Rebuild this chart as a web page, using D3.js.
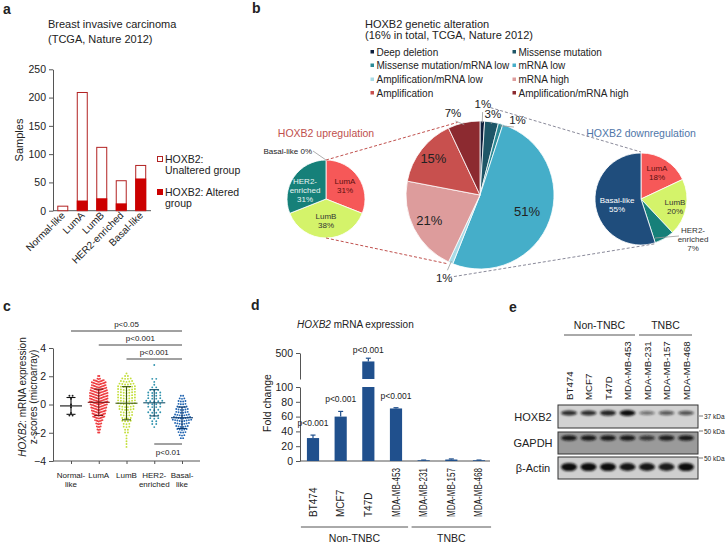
<!DOCTYPE html>
<html>
<head>
<meta charset="utf-8">
<script src="https://cdn.jsdelivr.net/npm/d3@7"></script>
<style>
body { margin: 0; background: #fff; }
text { font-family: "Liberation Sans", Arial, sans-serif; fill: #222; }
</style>
</head>
<body>
<div id="fig"></div>
<script>

// ---------- data ----------
// a: sample counts per PAM50 subtype
var subtypes = ["Normal-like", "LumA", "LumB", "HER2-enriched", "Basal-like"];
var totalSamples = [8, 209, 112, 53, 80];
var alteredSamples = [0, 18, 22, 13, 57];
var sampleTicks = [0, 50, 100, 150, 200, 250];

// b: alteration types (central pie) and subtype split of up / down groups
var alterTypes = ["Deep deletion", "Missense mutation", "Missense mutation/mRNA low", "mRNA low",
                  "Amplification/mRNA low", "mRNA high", "Amplification", "Amplification/mRNA high"];
var alterPct = [1, 3, 1, 51, 1, 21, 15, 7];
var upSubtypes = ["LumA", "LumB", "HER2-enriched", "Basal-like"];
var upPct = [31, 38, 31, 0];
var downSubtypes = ["LumA", "LumB", "HER2-enriched", "Basal-like"];
var downPct = [18, 20, 7, 55];

// c: z-score dot plot, counts of samples per z-score row
var zBins = [-3.0, -2.8, -2.6, -2.4, -2.2, -2.0, -1.8, -1.6, -1.4, -1.2, -1.0, -0.8, -0.6, -0.4, -0.2,
             0.0, 0.2, 0.4, 0.6, 0.8, 1.0, 1.2, 1.4, 1.6, 1.8, 2.0, 2.2, 2.4, 2.6, 2.8];
var zNormal = [0,0,0,0,0,0,0,0,0,0,0,2,1,0,1,1,0,1,2,0,0,0,0,0,0,0,0,0,0,0];
var zLumA   = [0,0,0,0,0,2,3,4,5,7,10,11,12,13,14,15,15,15,15,14,13,12,12,9,3,2,0,0,0,0];
var zLumB   = [1,1,1,1,1,2,2,3,3,4,4,5,5,6,6,7,7,7,7,7,7,7,6,5,4,2,1,0,0,0];
var zHer2   = [0,0,0,0,0,0,0,1,2,2,3,3,4,3,4,4,5,4,4,4,3,2,1,1,2,0,0,0,0,1];
var zBasal  = [0,0,0,2,3,4,5,6,7,9,8,7,6,6,5,4,4,3,2,0,0,0,0,0,0,0,0,0,0,0];
var zTicks = [-4, -2, 0, 2, 4];
var zComparisons = [["Normal-like", "Basal-like", "p<0.05"], ["LumA", "Basal-like", "p<0.001"],
                    ["LumB", "Basal-like", "p<0.001"]];

// d: qPCR fold change
var cellLines = ["BT474", "MCF7", "T47D", "MDA-MB-453", "MDA-MB-231", "MDA-MB-157", "MDA-MB-468"];
var foldChange = [31, 60, 370, 71, 1, 2, 1];
var foldErr = [4, 7, 50, 1, 0.3, 0.8, 0.3];
var foldP = ["p<0.001", "p<0.001", "p<0.001", "p<0.001", "", "", ""];
var lowTicks = [0, 20, 40, 60, 80, 100];
var highTicks = [500];
var groups = [["Non-TNBC", 0, 3], ["TNBC", 4, 6]];

// e: western blot band intensities (0-1)
var blotProteins = ["HOXB2", "GAPDH", "\u03b2-Actin"];
var hoxb2Band = [0.8, 0.8, 0.85, 1.0, 0.35, 0.5, 0.55];
var gapdhBand = [0.9, 0.9, 0.9, 0.9, 0.65, 0.85, 0.9];
var actinBand = [1.0, 1.0, 1.0, 0.95, 0.95, 0.9, 1.0];
var kdaMarks = ["37 kDa", "50 kDa", "50 kDa"];

// ---------- page ----------
var svg = d3.select("#fig").append("svg").attr("width", 728).attr("height", 547);
svg.append("rect").attr("width", 728).attr("height", 547).attr("fill", "#fff");

var defs = svg.append("defs");
defs.append("filter").attr("id", "blur").attr("x", "-50%").attr("y", "-100%").attr("width", "200%").attr("height", "300%")
  .append("feGaussianBlur").attr("stdDeviation", 0.9);

function panelLabel(t, x, y) {
  svg.append("text").attr("x", x).attr("y", y).attr("font-size", 14).attr("font-weight", "bold").text(t);
}
panelLabel("a", 3, 14);
panelLabel("b", 252, 13);
panelLabel("c", 3, 311);
panelLabel("d", 251, 310);
panelLabel("e", 509, 312);

function styleAxis(g, fs) {
  g.select(".domain").attr("stroke", "#555");
  g.selectAll(".tick line").attr("stroke", "#555");
  g.selectAll(".tick text").attr("font-size", fs).attr("fill", "#222")
    .attr("font-family", '"Liberation Sans", Arial, sans-serif');
}

// ================= panel a =================
var pa = svg.append("g");
pa.append("text").attr("x", 48).attr("y", 28).attr("font-size", 11).text("Breast invasive carcinoma");
pa.append("text").attr("x", 48).attr("y", 43).attr("font-size", 11).text("(TCGA, Nature 2012)");

var ax = d3.scaleBand().domain(subtypes).range([53, 150.5]).paddingInner(0.436).paddingOuter(0.22);
var ay = d3.scaleLinear().domain([0, 250]).range([210.7, 69.3]);

var gay = pa.append("g").attr("transform", "translate(53,0)")
  .call(d3.axisLeft(ay).tickValues(sampleTicks).tickSize(4).tickSizeOuter(0));
styleAxis(gay, 10.5);
pa.append("line").attr("x1", 53).attr("x2", 151).attr("y1", 210.7).attr("y2", 210.7).attr("stroke", "#555");

pa.selectAll(".tot").data(subtypes).enter().append("rect")
  .attr("x", function(d) { return ax(d) + 0.5; })
  .attr("y", function(d, i) { return ay(totalSamples[i]); })
  .attr("width", ax.bandwidth() - 1)
  .attr("height", function(d, i) { return ay(0) - ay(totalSamples[i]); })
  .attr("fill", "#fff").attr("stroke", "#b22222").attr("stroke-width", 1);
pa.selectAll(".alt").data(subtypes).enter().append("rect")
  .attr("x", function(d) { return ax(d); })
  .attr("y", function(d, i) { return ay(alteredSamples[i]); })
  .attr("width", ax.bandwidth())
  .attr("height", function(d, i) { return ay(0) - ay(alteredSamples[i]); })
  .attr("fill", "#cc0000");
pa.selectAll(".xl").data(subtypes).enter().append("text")
  .attr("transform", function(d) { return "translate(" + (ax(d) + ax.bandwidth() / 2 + 3) + ",216) rotate(-45)"; })
  .attr("text-anchor", "end").attr("font-size", 10).text(function(d) { return d; });
pa.append("text").attr("transform", "translate(23,140) rotate(-90)").attr("text-anchor", "middle")
  .attr("font-size", 11).text("Samples");

// legend
pa.append("rect").attr("x", 157.5).attr("y", 156.5).attr("width", 5).attr("height", 5)
  .attr("fill", "#fff").attr("stroke", "#b22222");
pa.append("text").attr("x", 165).attr("y", 163).attr("font-size", 10.5).text("HOXB2:");
pa.append("text").attr("x", 165).attr("y", 174).attr("font-size", 10.5).text("Unaltered group");
pa.append("rect").attr("x", 157).attr("y", 189).attr("width", 6).attr("height", 6).attr("fill", "#cc0000");
pa.append("text").attr("x", 165).attr("y", 196).attr("font-size", 10.5).text("HOXB2: Altered");
pa.append("text").attr("x", 165).attr("y", 207).attr("font-size", 10.5).text("group");

// ================= panel b =================
var pb = svg.append("g");
var alterColor = d3.scaleOrdinal().domain(alterTypes)
  .range(["#0e1f3d", "#1e5667", "#2b8a96", "#45aec9", "#a9dbe6", "#dd9c9c", "#c8504e", "#8c2a30"]);
var subColor = d3.scaleOrdinal().domain(upSubtypes).range(["#f65858", "#d4f36a", "#168079", "#1f4d7c"]);

pb.append("text").attr("x", 365).attr("y", 28).attr("font-size", 11).text("HOXB2 genetic alteration");
pb.append("text").attr("x", 365).attr("y", 39).attr("font-size", 11).text("(16% in total, TCGA, Nature 2012)");

var leg = pb.selectAll(".lg").data(alterTypes).enter().append("g")
  .attr("transform", function(d, i) {
    return "translate(" + (i % 2 === 0 ? 370.5 : 512.5) + "," + [52, 65.5, 79.5, 93][Math.floor(i / 2)] + ")";
  });
leg.append("rect").attr("x", 0).attr("y", -2).attr("width", 3.5).attr("height", 3.5)
  .attr("fill", function(d) { return alterColor(d); });
leg.append("text").attr("x", 6).attr("y", 3.5).attr("font-size", 10).text(function(d) { return d; });

// central pie
var cx0 = 480, cy0 = 195, r0 = 74;
var pie = d3.pie().sort(null).value(function(d) { return d.v; });
var arc0 = d3.arc().innerRadius(0).outerRadius(r0);
var slices0 = pie(alterTypes.map(function(t, i) { return {k: t, v: alterPct[i]}; }));
var gc = pb.append("g").attr("transform", "translate(" + cx0 + "," + cy0 + ")");
gc.selectAll("path").data(slices0).enter().append("path")
  .attr("d", arc0).attr("fill", function(d) { return alterColor(d.data.k); })
  .attr("stroke", "#fff").attr("stroke-width", 0.8);

// label radius per slice (inside for the large ones, outside otherwise)
var labelR = [91, 82, 84, 50, 90, 57, 59, 86];
var labelNudge = [0, 0, 0.18, 0, 0, 0, 0, -0.1];
gc.selectAll(".pl").data(slices0).enter().append("text")
  .attr("x", function(d, i) { var a = (d.startAngle + d.endAngle) / 2 + labelNudge[i]; return Math.sin(a) * labelR[i]; })
  .attr("y", function(d, i) { var a = (d.startAngle + d.endAngle) / 2 + labelNudge[i]; return -Math.cos(a) * labelR[i] + 4; })
  .attr("text-anchor", "middle").attr("font-size", function(d, i) { return labelR[i] < 70 ? 13 : 11.5; })
  .text(function(d) { return d.data.v + "%"; });
// leader lines for outside labels
slices0.forEach(function(d, i) {
  if (labelR[i] < 70) return;
  var a = (d.startAngle + d.endAngle) / 2;
  var a2 = a + labelNudge[i];
  gc.append("line")
    .attr("x1", Math.sin(a) * (r0 - 2)).attr("y1", -Math.cos(a) * (r0 - 2))
    .attr("x2", Math.sin(a2) * (labelR[i] - 8)).attr("y2", -Math.cos(a2) * (labelR[i] - 8))
    .attr("stroke", "#999").attr("stroke-width", 0.8);
});

// side pies
function sidePie(cx, cy, r, names, pcts, title, titleColor) {
  var g = pb.append("g").attr("transform", "translate(" + cx + "," + cy + ")");
  var arc = d3.arc().innerRadius(0).outerRadius(r);
  var sl = pie(names.map(function(t, i) { return {k: t, v: pcts[i]}; }));
  g.selectAll("path").data(sl.filter(function(d) { return d.data.v > 0; })).enter().append("path")
    .attr("d", arc).attr("fill", function(d) { return subColor(d.data.k); })
    .attr("stroke", "#fff").attr("stroke-width", 0.8);
  g.append("text").attr("x", 0).attr("y", -62).attr("text-anchor", "middle")
    .attr("font-size", 10.5).style("fill", titleColor).text(title);
  return {g: g, slices: sl};
}

var up = sidePie(326, 199, 39, upSubtypes, upPct, "HOXB2 upregulation", "#c0504d");
var dn = sidePie(641, 199, 46, downSubtypes, downPct, "HOXB2 downregulation", "#4f76a8");

function smallLabel(g, x, y, lines, color) {
  var t = g.append("text").attr("text-anchor", "middle").attr("font-size", 8).style("fill", color);
  lines.forEach(function(s, i) {
    t.append("tspan").attr("x", x).attr("y", y + i * 9).text(s);
  });
}
var upLab = [[19, -15, "#5a1010"], [0, 20, "#333"], [-21, -15, "#e8f4f2"]];
up.slices.forEach(function(d, i) {
  if (d.data.v === 0) return;
  var L = upLab[i];
  var lines = d.data.k === "HER2-enriched" ? ["HER2-", "enriched", d.data.v + "%"] : [d.data.k, d.data.v + "%"];
  smallLabel(up.g, L[0], L[1], lines, L[2]);
});
up.g.append("text").attr("x", -14).attr("y", -45).attr("text-anchor", "end").attr("font-size", 8)
  .text("Basal-like " + upPct[3] + "%");
up.g.append("line").attr("x1", -13).attr("y1", -48).attr("x2", 0).attr("y2", -39)
  .attr("stroke", "#999").attr("stroke-width", 0.8);

var dnLab = [[16, -28, "#5a1010"], [34, 6, "#333"], [52, 34, "#333"], [-24, 4, "#fff"]];
dn.slices.forEach(function(d, i) {
  var L = dnLab[i];
  var lines = d.data.k === "HER2-enriched" ? ["HER2-", "enriched", d.data.v + "%"]
            : d.data.k === "Basal-like" ? ["Basal-like", d.data.v + "%"] : [d.data.k, d.data.v + "%"];
  smallLabel(dn.g, L[0], L[1], lines, L[2]);
});
dn.g.append("line").attr("x1", 14).attr("y1", 39).attr("x2", 38).attr("y2", 37)
  .attr("stroke", "#999").attr("stroke-width", 0.8);

// dashed connectors between the pies
var upStart = slices0[5].startAngle, downEnd = slices0[4].endAngle;
function onCircle(cx, cy, r, a) { return [cx + Math.sin(a) * r, cy - Math.cos(a) * r]; }
var conns = [
  [onCircle(326, 199, 39, 0), onCircle(cx0, cy0, r0 + 2, 2 * Math.PI - 0.3), "#c0504d"],
  [onCircle(326, 199, 39, Math.PI), onCircle(cx0, cy0, r0 + 2, upStart), "#c0504d"],
  [onCircle(cx0, cy0, r0 + 14, 0.12), onCircle(641, 199, 47, 0), "#8a8a9a"],
  [onCircle(cx0, cy0, r0 + 14, downEnd - 0.08), onCircle(641, 199, 47, dn.slices[2].endAngle), "#8a8a9a"]
];
conns.forEach(function(c) {
  pb.append("line").attr("x1", c[0][0]).attr("y1", c[0][1]).attr("x2", c[1][0]).attr("y2", c[1][1])
    .attr("stroke", c[2]).attr("stroke-width", 1).attr("stroke-dasharray", "3,2");
});

// ================= panel c =================
var pc = svg.append("g");
var cxs = d3.scalePoint().domain(subtypes).range([71, 182]);
var cys = d3.scaleLinear().domain([-4, 4]).range([461, 348]);
var gcy = pc.append("g").attr("transform", "translate(53,0)")
  .call(d3.axisLeft(cys).tickValues(zTicks).tickSize(4).tickSizeOuter(0));
styleAxis(gcy, 10.5);
var gcx = pc.append("g").attr("transform", "translate(0,461)")
  .call(d3.axisBottom(cxs).tickSize(3).tickFormat(""));
gcx.select(".domain").attr("d", "M53,0H200");
styleAxis(gcx, 8.5);

var catLines = [["Normal-", "like"], ["LumA"], ["LumB"], ["HER2-", "enriched"], ["Basal-", "like"]];
subtypes.forEach(function(s, i) {
  var t = pc.append("text").attr("text-anchor", "middle").attr("font-size", 8);
  catLines[i].forEach(function(l, j) {
    t.append("tspan").attr("x", cxs(s)).attr("y", 478 + j * 9).text(l);
  });
});

var ylab = pc.append("text").attr("transform", "translate(26,397) rotate(-90)")
  .attr("text-anchor", "middle").attr("font-size", 10);
ylab.append("tspan").attr("font-style", "italic").text("HOXB2");
ylab.append("tspan").text(": mRNA expression");
pc.append("text").attr("transform", "translate(37,397) rotate(-90)")
  .attr("text-anchor", "middle").attr("font-size", 10).text("z-scores (microarray)");

var zGroups = [
  {name: "Normal-like", counts: zNormal, color: "#222", dark: "#111", dx: 3.2},
  {name: "LumA", counts: zLumA, color: "#ee3b3f", dark: "#7a1414", dx: 1.25},
  {name: "LumB", counts: zLumB, color: "#c3de3a", dark: "#3f5a12", dx: 2.8},
  {name: "HER2-enriched", counts: zHer2, color: "#2f92ad", dark: "#15506a", dx: 4},
  {name: "Basal-like", counts: zBasal, color: "#1f63b0", dark: "#0d3a6e", dx: 2.3}
];
zGroups.forEach(function(g) {
  var pts = [], vals = [];
  g.counts.forEach(function(n, b) {
    for (var k = 0; k < n; k++) {
      var off = k - (n - 1) / 2;
      pts.push([cxs(g.name) + off * g.dx, cys(zBins[b]) - Math.abs(off) * 0.45]);
      vals.push(zBins[b]);
    }
  });
  pc.append("g").selectAll("circle").data(pts).enter().append("circle")
    .attr("cx", function(d) { return d[0]; }).attr("cy", function(d) { return d[1]; })
    .attr("r", 0.95).attr("fill", g.color);
  var m = d3.mean(vals), sd = d3.deviation(vals), x = cxs(g.name);
  var eg = pc.append("g").attr("stroke", g.dark).attr("stroke-width", 1.1);
  eg.append("line").attr("x1", x - 11).attr("x2", x + 11).attr("y1", cys(m)).attr("y2", cys(m));
  eg.append("line").attr("x1", x).attr("x2", x).attr("y1", cys(m - sd)).attr("y2", cys(m + sd));
  eg.append("line").attr("x1", x - 4.5).attr("x2", x + 4.5).attr("y1", cys(m + sd)).attr("y2", cys(m + sd));
  eg.append("line").attr("x1", x - 4.5).attr("x2", x + 4.5).attr("y1", cys(m - sd)).attr("y2", cys(m - sd));
});

zComparisons.forEach(function(c, i) {
  var y = 331 + i * 14;
  pc.append("line").attr("x1", cxs(c[0])).attr("x2", cxs(c[1])).attr("y1", y).attr("y2", y)
    .attr("stroke", "#444").attr("stroke-width", 1);
  pc.append("text").attr("x", (cxs(c[0]) + cxs(c[1])) / 2).attr("y", y - 4)
    .attr("text-anchor", "middle").attr("font-size", 8).text(c[2]);
});
pc.append("line").attr("x1", cxs("HER2-enriched")).attr("x2", cxs("Basal-like")).attr("y1", 444).attr("y2", 444)
  .attr("stroke", "#444").attr("stroke-width", 1);
pc.append("text").attr("x", (cxs("HER2-enriched") + cxs("Basal-like")) / 2).attr("y", 455)
  .attr("text-anchor", "middle").attr("font-size", 8).text("p<0.01");

// ================= panel d =================
var pd = svg.append("g");
var t = pd.append("text").attr("x", 297).attr("y", 328).attr("font-size", 10);
t.append("tspan").attr("font-style", "italic").text("HOXB2");
t.append("tspan").text(" mRNA expression");

var dx = d3.scaleBand().domain(cellLines).range([300, 492]).paddingInner(0.56).paddingOuter(0.25);
var yLow = d3.scaleLinear().domain([0, 100]).range([461, 387]);
var yHigh = d3.scaleLinear().domain([100, 500]).range([379, 353]);
function yFold(v) { return v <= 100 ? yLow(v) : yHigh(v); }

var gl = pd.append("g").attr("transform", "translate(300,0)")
  .call(d3.axisLeft(yLow).tickValues(lowTicks).tickSize(4).tickSizeOuter(0));
styleAxis(gl, 10.5);
var gh = pd.append("g").attr("transform", "translate(300,0)")
  .call(d3.axisLeft(yHigh).tickValues(highTicks).tickSize(4).tickSizeOuter(0));
styleAxis(gh, 10.5);
pd.append("line").attr("x1", 300).attr("x2", 490).attr("y1", 461).attr("y2", 461).attr("stroke", "#555");

var barCol = "#20508d";
cellLines.forEach(function(c, i) {
  var x = dx(c), w = dx.bandwidth(), v = foldChange[i];
  pd.append("rect").attr("x", x).attr("width", w).attr("y", yLow(Math.min(v, 100)))
    .attr("height", yLow(0) - yLow(Math.min(v, 100))).attr("fill", barCol);
  if (v > 100) {
    pd.append("rect").attr("x", x).attr("width", w).attr("y", yHigh(v))
      .attr("height", yHigh(100) - yHigh(v)).attr("fill", barCol);
  }
  var top = yFold(v + foldErr[i]), cxp = x + w / 2;
  pd.append("line").attr("x1", cxp).attr("x2", cxp).attr("y1", yFold(v)).attr("y2", top)
    .attr("stroke", barCol).attr("stroke-width", 1.2);
  pd.append("line").attr("x1", cxp - 2.5).attr("x2", cxp + 2.5).attr("y1", top).attr("y2", top)
    .attr("stroke", barCol).attr("stroke-width", 1.2);
  if (foldP[i]) {
    pd.append("text").attr("x", cxp).attr("y", top - (v > 100 ? 5 : 9)).attr("text-anchor", "middle")
      .attr("font-size", 8.5).text(foldP[i]);
  }
  var lab = pd.append("text").attr("transform", "translate(" + (cxp + 3.5) + ",517) rotate(-90)")
    .attr("font-size", 10).text(c);
  // long names are squeezed in the original figure
  if (lab.node().getComputedTextLength() > 49) {
    lab.attr("textLength", 49).attr("lengthAdjust", "spacingAndGlyphs");
  }
});
groups.forEach(function(g) {
  var x1 = dx(cellLines[g[1]]) - 6, x2 = dx(cellLines[g[2]]) + dx.bandwidth() + 6;
  pd.append("line").attr("x1", x1).attr("x2", x2).attr("y1", 527).attr("y2", 527).attr("stroke", "#555");
  pd.append("text").attr("x", (x1 + x2) / 2).attr("y", 542).attr("text-anchor", "middle")
    .attr("font-size", 10.5).text(g[0]);
});
pd.append("text").attr("transform", "translate(271,403) rotate(-90)").attr("text-anchor", "middle")
  .attr("font-size", 10.5).text("Fold change");

// ================= panel e =================
var pe = svg.append("g");
var lane = d3.scalePoint().domain(cellLines).range([569, 686]);
[["Non-TNBC", 0, 3, 564, 635], ["TNBC", 4, 6, 639, 692]].forEach(function(g) {
  pe.append("line").attr("x1", g[3]).attr("x2", g[4]).attr("y1", 335).attr("y2", 335).attr("stroke", "#555");
  pe.append("text").attr("x", (g[3] + g[4]) / 2).attr("y", 329).attr("text-anchor", "middle")
    .attr("font-size", 10.5).text(g[0]);
});
cellLines.forEach(function(c) {
  pe.append("text").attr("transform", "translate(" + (lane(c) + 3.5) + ",400) rotate(-90)")
    .attr("font-size", 9.7).text(c);
});

var blots = [
  {name: blotProteins[0], bands: hoxb2Band, y0: 405, y1: 428, bg: "#d2d2d2", by: 413, kda: kdaMarks[0], ky: 416},
  {name: blotProteins[1], bands: gapdhBand, y0: 432, y1: 454, bg: "#9a9a9a", by: 438, kda: kdaMarks[1], ky: 431},
  {name: blotProteins[2], bands: actinBand, y0: 457, y1: 479, bg: "#cfcfcf", by: 467, kda: kdaMarks[2], ky: 458}
];
blots.forEach(function(b, bi) {
  pe.append("rect").attr("x", 558).attr("y", b.y0).attr("width", 140).attr("height", b.y1 - b.y0)
    .attr("fill", b.bg).attr("stroke", "#333").attr("stroke-width", 1);
  var bg = pe.append("g").attr("filter", "url(#blur)");
  b.bands.forEach(function(v, i) {
    var h = bi === 2 ? 3.4 : 2.4;
    bg.append("ellipse").attr("cx", lane(cellLines[i])).attr("cy", b.by)
      .attr("rx", 8).attr("ry", h * (0.6 + 0.6 * v))
      .attr("fill", "#111").attr("opacity", 0.25 + 0.75 * v);
  });
  pe.append("text").attr("x", 533).attr("y", (b.y0 + b.y1) / 2 + 4).attr("text-anchor", "middle")
    .attr("font-size", 11).text(b.name);
  pe.append("line").attr("x1", 699).attr("x2", 703).attr("y1", b.ky).attr("y2", b.ky)
    .attr("stroke", "#555").attr("stroke-width", 0.8);
  pe.append("text").attr("x", 704).attr("y", b.ky + 2.5).attr("font-size", 6.5).text(b.kda);
});

</script>
</body>
</html>
